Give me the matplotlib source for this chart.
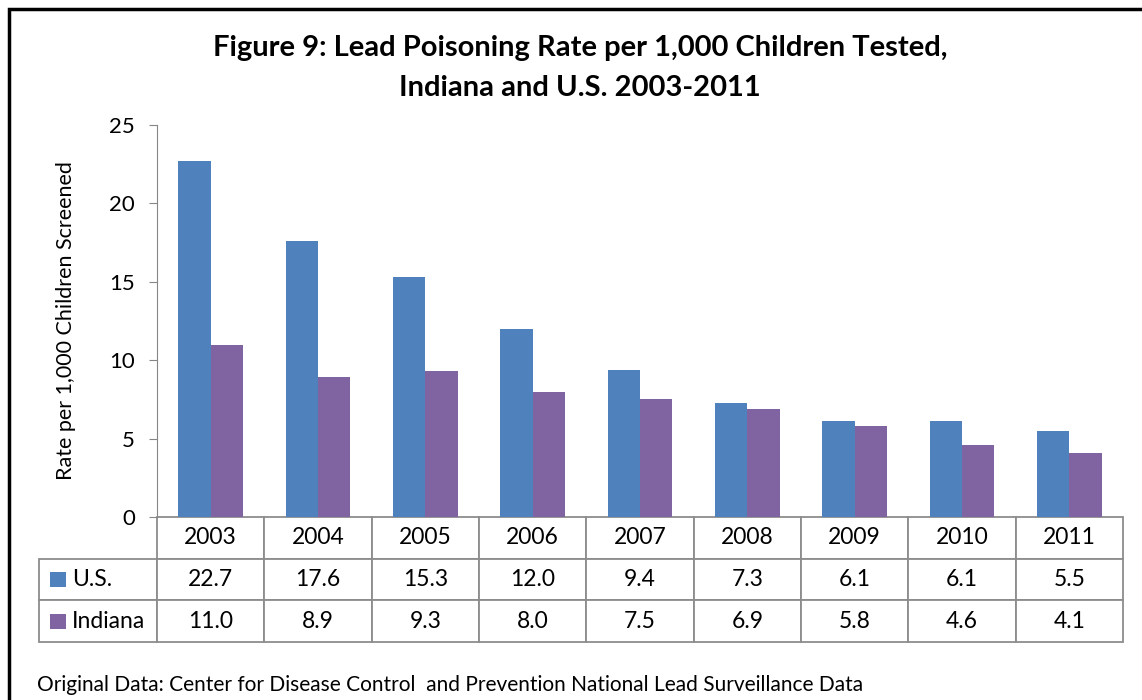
import matplotlib.pyplot as plt
import matplotlib.patches as mpatches
import numpy as np

plt.rcParams['font.family'] = ['Lato', 'DejaVu Sans']

years = ['2003', '2004', '2005', '2006', '2007', '2008', '2009', '2010', '2011']
us_rate = [22.7, 17.6, 15.3, 12.0, 9.4, 7.3, 6.1, 6.1, 5.5]
indiana_rate = [11.0, 8.9, 9.3, 8.0, 7.5, 6.9, 5.8, 4.6, 4.1]
series_names = ['U.S.', 'Indiana']
series_colors = ['#4F81BD', '#8064A2']

W, H = 1142, 700
fig = plt.figure(figsize=(W / 100, H / 100), dpi=100)

# outer chart frame (runs off the right/bottom of the picture)
fig.patches.append(mpatches.Rectangle((9 / W, -0.1), 1.2, 1 - 9 / H + 0.1,
                                      transform=fig.transFigure, fill=False,
                                      edgecolor='black', linewidth=2.5))

ax_l, ax_r, ax_t, ax_b = 157, 1123, 125, 517
ax = fig.add_axes([ax_l / W, 1 - ax_b / H, (ax_r - ax_l) / W, (ax_b - ax_t) / H])

x = np.arange(len(years))
bw = 0.3
ax.bar(x - bw / 2, us_rate, bw, color=series_colors[0])
ax.bar(x + bw / 2, indiana_rate, bw, color=series_colors[1])

ax.set_xlim(-0.5, len(years) - 0.5)
ax.set_ylim(0, 25)
ax.set_yticks(range(0, 26, 5))
ax.set_xticks([])
for s in ['top', 'right', 'bottom']:
    ax.spines[s].set_visible(False)
ax.spines['left'].set_color('#868686')
ax.tick_params(axis='y', colors='#868686', length=6, labelsize=16, labelcolor='black', pad=10)
ax.set_ylabel('Rate per 1,000 Children Screened', fontsize=15.5)
ax.yaxis.set_label_coords(-0.084, 0.5)

# data table under the plot
ax_w = ax_r - ax_l
ax_h = ax_b - ax_t
tab_l, tab_b = 39, 642
lab_w = ax_l - tab_l
cells = [[''] + years,
         [series_names[0]] + [f'{v:.1f}' for v in us_rate],
         [series_names[1]] + [f'{v:.1f}' for v in indiana_rate]]
col_w = [lab_w] + [ax_w / len(years)] * len(years)
tot_w = sum(col_w)
tab = ax.table(cellText=cells, colWidths=[c / tot_w for c in col_w],
               cellLoc='center',
               bbox=[(tab_l - ax_l) / ax_w, -(tab_b - ax_b) / ax_h,
                     tot_w / ax_w, (tab_b - ax_b) / ax_h])
tab.auto_set_font_size(False)
for (r, c), cell in tab.get_celld().items():
    cell.set_edgecolor('#8c8c8c')
    cell.set_linewidth(1.3)
    cell.get_text().set_fontsize(16.5)
    if c == 0:
        cell._loc = 'left'
        cell.PAD = 0.28
        cell.get_text().set_horizontalalignment('left')
    if r == 0 and c == 0:
        cell.visible_edges = ''

row_h = (tab_b - ax_b) / 3
for i, col in enumerate(series_colors):
    yc = ax_b + row_h * (1.5 + i)
    ax.add_patch(mpatches.Rectangle(((50 - ax_l) / ax_w, -(yc + 7.5 - ax_b) / ax_h),
                                    16 / ax_w, 15 / ax_h, transform=ax.transAxes,
                                    facecolor=col, clip_on=False))

fig.text(580 / W, 1 - 48 / H, 'Figure 9: Lead Poisoning Rate per 1,000 Children Tested,',
         ha='center', va='center', fontsize=21, fontweight='bold')
fig.text(580 / W, 1 - 88 / H, 'Indiana and U.S. 2003-2011',
         ha='center', va='center', fontsize=21, fontweight='bold')
fig.text(37 / W, 1 - 685 / H,
         'Original Data: Center for Disease Control  and Prevention National Lead Surveillance Data',
         ha='left', va='center', fontsize=15)

fig.savefig('out.png', dpi=100)
